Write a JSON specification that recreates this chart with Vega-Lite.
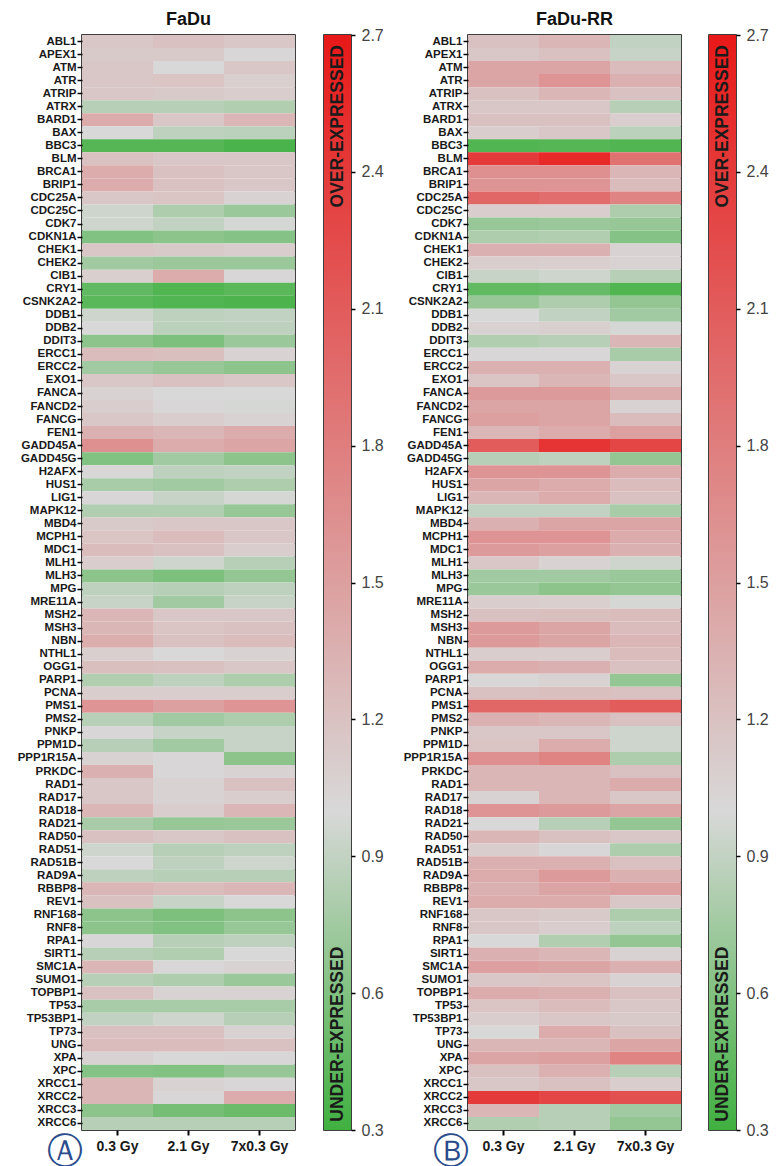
{
  "$schema": "https://vega.github.io/schema/vega-lite/v6.json",
  "background": "white",
  "padding": {"left": 16, "top": 10, "right": 5, "bottom": 0},
  "config": {
    "font": "Liberation Sans",
    "view": {"stroke": "black", "strokeWidth": 1.5},
    "title": {"fontSize": 18, "fontWeight": "bold", "color": "#111", "offset": 6}
  },
  "datasets": {
    "fadu": [
      {"gene":"ABL1","a":1.15,"b":1.2,"c":1.15},
      {"gene":"APEX1","a":1.12,"b":1.12,"c":1.02},
      {"gene":"ATM","a":1.15,"b":1.0,"c":1.15},
      {"gene":"ATR","a":1.15,"b":1.18,"c":1.08},
      {"gene":"ATRIP","a":1.15,"b":1.12,"c":1.1},
      {"gene":"ATRX","a":0.85,"b":0.85,"c":0.82},
      {"gene":"BARD1","a":1.4,"b":1.15,"c":1.3},
      {"gene":"BAX","a":1.0,"b":0.88,"c":0.87},
      {"gene":"BBC3","a":0.4,"b":0.4,"c":0.35},
      {"gene":"BLM","a":1.2,"b":1.15,"c":1.15},
      {"gene":"BRCA1","a":1.4,"b":1.2,"c":1.15},
      {"gene":"BRIP1","a":1.4,"b":1.2,"c":1.15},
      {"gene":"CDC25A","a":1.15,"b":1.18,"c":1.05},
      {"gene":"CDC25C","a":0.95,"b":0.8,"c":0.72},
      {"gene":"CDK7","a":0.95,"b":0.9,"c":0.98},
      {"gene":"CDKN1A","a":0.6,"b":0.65,"c":0.62},
      {"gene":"CHEK1","a":1.15,"b":1.12,"c":1.1},
      {"gene":"CHEK2","a":0.75,"b":0.72,"c":0.72},
      {"gene":"CIB1","a":1.08,"b":1.4,"c":1.02},
      {"gene":"CRY1","a":0.45,"b":0.38,"c":0.42},
      {"gene":"CSNK2A2","a":0.42,"b":0.38,"c":0.36},
      {"gene":"DDB1","a":0.95,"b":0.88,"c":0.9},
      {"gene":"DDB2","a":1.0,"b":0.87,"c":0.88},
      {"gene":"DDIT3","a":0.65,"b":0.58,"c":0.72},
      {"gene":"ERCC1","a":1.25,"b":1.22,"c":1.05},
      {"gene":"ERCC2","a":0.75,"b":0.7,"c":0.65},
      {"gene":"EXO1","a":1.15,"b":1.2,"c":1.15},
      {"gene":"FANCA","a":1.05,"b":1.0,"c":1.0},
      {"gene":"FANCD2","a":1.1,"b":1.02,"c":0.98},
      {"gene":"FANCG","a":1.15,"b":1.1,"c":1.05},
      {"gene":"FEN1","a":1.35,"b":1.3,"c":1.4},
      {"gene":"GADD45A","a":1.65,"b":1.4,"c":1.45},
      {"gene":"GADD45G","a":0.6,"b":0.75,"c":0.65},
      {"gene":"H2AFX","a":1.02,"b":0.88,"c":0.9},
      {"gene":"HUS1","a":0.78,"b":0.75,"c":0.8},
      {"gene":"LIG1","a":1.02,"b":0.92,"c":0.98},
      {"gene":"MAPK12","a":0.82,"b":0.82,"c":0.7},
      {"gene":"MBD4","a":1.12,"b":1.15,"c":1.15},
      {"gene":"MCPH1","a":1.18,"b":1.25,"c":1.15},
      {"gene":"MDC1","a":1.25,"b":1.2,"c":1.1},
      {"gene":"MLH1","a":1.1,"b":0.95,"c":0.85},
      {"gene":"MLH3","a":0.65,"b":0.58,"c":0.68},
      {"gene":"MPG","a":0.88,"b":0.85,"c":0.88},
      {"gene":"MRE11A","a":0.92,"b":0.75,"c":0.92},
      {"gene":"MSH2","a":1.3,"b":1.15,"c":1.15},
      {"gene":"MSH3","a":1.3,"b":1.18,"c":1.2},
      {"gene":"NBN","a":1.38,"b":1.2,"c":1.25},
      {"gene":"NTHL1","a":1.08,"b":1.0,"c":1.05},
      {"gene":"OGG1","a":1.22,"b":1.2,"c":1.15},
      {"gene":"PARP1","a":0.82,"b":0.88,"c":0.8},
      {"gene":"PCNA","a":1.1,"b":1.1,"c":1.1},
      {"gene":"PMS1","a":1.6,"b":1.5,"c":1.6},
      {"gene":"PMS2","a":0.85,"b":0.75,"c":0.8},
      {"gene":"PNKP","a":1.02,"b":0.92,"c":0.92},
      {"gene":"PPM1D","a":0.85,"b":0.75,"c":0.92},
      {"gene":"PPP1R15A","a":1.05,"b":1.02,"c":0.65},
      {"gene":"PRKDC","a":1.35,"b":1.02,"c":1.05},
      {"gene":"RAD1","a":1.15,"b":1.05,"c":1.2},
      {"gene":"RAD17","a":1.15,"b":1.05,"c":1.1},
      {"gene":"RAD18","a":1.3,"b":1.1,"c":1.3},
      {"gene":"RAD21","a":0.78,"b":0.7,"c":0.72},
      {"gene":"RAD50","a":1.2,"b":1.15,"c":1.2},
      {"gene":"RAD51","a":0.95,"b":0.85,"c":0.88},
      {"gene":"RAD51B","a":1.0,"b":0.88,"c":0.95},
      {"gene":"RAD9A","a":0.88,"b":0.85,"c":0.85},
      {"gene":"RBBP8","a":1.3,"b":1.25,"c":1.3},
      {"gene":"REV1","a":1.2,"b":0.92,"c":1.0},
      {"gene":"RNF168","a":0.65,"b":0.58,"c":0.65},
      {"gene":"RNF8","a":0.65,"b":0.6,"c":0.7},
      {"gene":"RPA1","a":1.02,"b":0.85,"c":0.88},
      {"gene":"SIRT1","a":0.85,"b":0.82,"c":1.0},
      {"gene":"SMC1A","a":1.3,"b":1.02,"c":1.05},
      {"gene":"SUMO1","a":0.85,"b":0.8,"c":0.72},
      {"gene":"TOPBP1","a":1.2,"b":1.05,"c":1.05},
      {"gene":"TP53","a":0.78,"b":0.78,"c":0.78},
      {"gene":"TP53BP1","a":0.9,"b":0.95,"c":0.85},
      {"gene":"TP73","a":1.2,"b":1.2,"c":1.05},
      {"gene":"UNG","a":1.25,"b":1.25,"c":1.2},
      {"gene":"XPA","a":1.05,"b":1.0,"c":1.02},
      {"gene":"XPC","a":0.62,"b":0.6,"c":0.7},
      {"gene":"XRCC1","a":1.3,"b":1.05,"c":1.02},
      {"gene":"XRCC2","a":1.3,"b":1.02,"c":1.4},
      {"gene":"XRCC3","a":0.65,"b":0.55,"c":0.5},
      {"gene":"XRCC6","a":0.85,"b":0.85,"c":0.85}
    ],
    "fadurr": [
      {"gene":"ABL1","a":1.2,"b":1.3,"c":0.9},
      {"gene":"APEX1","a":1.15,"b":1.2,"c":0.92},
      {"gene":"ATM","a":1.45,"b":1.45,"c":1.25},
      {"gene":"ATR","a":1.45,"b":1.6,"c":1.35},
      {"gene":"ATRIP","a":1.2,"b":1.3,"c":1.2},
      {"gene":"ATRX","a":1.15,"b":1.15,"c":0.85},
      {"gene":"BARD1","a":1.2,"b":1.2,"c":1.1},
      {"gene":"BAX","a":1.1,"b":1.15,"c":0.87},
      {"gene":"BBC3","a":0.38,"b":0.4,"c":0.38},
      {"gene":"BLM","a":2.4,"b":2.55,"c":1.9},
      {"gene":"BRCA1","a":1.65,"b":1.65,"c":1.3},
      {"gene":"BRIP1","a":1.6,"b":1.6,"c":1.25},
      {"gene":"CDC25A","a":2.0,"b":1.95,"c":1.75},
      {"gene":"CDC25C","a":1.1,"b":1.1,"c":0.8},
      {"gene":"CDK7","a":0.7,"b":0.72,"c":0.7},
      {"gene":"CDKN1A","a":0.8,"b":0.82,"c":0.62},
      {"gene":"CHEK1","a":1.35,"b":1.35,"c":1.05},
      {"gene":"CHEK2","a":1.1,"b":1.08,"c":1.05},
      {"gene":"CIB1","a":0.92,"b":0.95,"c":0.85},
      {"gene":"CRY1","a":0.45,"b":0.48,"c":0.38},
      {"gene":"CSNK2A2","a":0.7,"b":0.8,"c":0.68},
      {"gene":"DDB1","a":1.0,"b":0.9,"c":0.75},
      {"gene":"DDB2","a":1.05,"b":1.08,"c":0.98},
      {"gene":"DDIT3","a":0.82,"b":0.85,"c":1.3},
      {"gene":"ERCC1","a":1.02,"b":1.02,"c":0.78},
      {"gene":"ERCC2","a":1.35,"b":1.35,"c":1.05},
      {"gene":"EXO1","a":1.18,"b":1.3,"c":1.15},
      {"gene":"FANCA","a":1.55,"b":1.55,"c":1.4},
      {"gene":"FANCD2","a":1.45,"b":1.45,"c":1.05},
      {"gene":"FANCG","a":1.5,"b":1.45,"c":1.25},
      {"gene":"FEN1","a":1.3,"b":1.4,"c":1.5},
      {"gene":"GADD45A","a":2.1,"b":2.45,"c":2.3},
      {"gene":"GADD45G","a":0.85,"b":0.88,"c":0.68},
      {"gene":"H2AFX","a":1.6,"b":1.6,"c":1.4},
      {"gene":"HUS1","a":1.45,"b":1.4,"c":1.25},
      {"gene":"LIG1","a":1.3,"b":1.4,"c":1.2},
      {"gene":"MAPK12","a":0.9,"b":0.9,"c":0.78},
      {"gene":"MBD4","a":1.35,"b":1.45,"c":1.45},
      {"gene":"MCPH1","a":1.6,"b":1.6,"c":1.4},
      {"gene":"MDC1","a":1.55,"b":1.5,"c":1.35},
      {"gene":"MLH1","a":1.15,"b":1.05,"c":0.95},
      {"gene":"MLH3","a":0.75,"b":0.75,"c":0.72},
      {"gene":"MPG","a":0.72,"b":0.65,"c":0.68},
      {"gene":"MRE11A","a":1.1,"b":1.08,"c":0.98},
      {"gene":"MSH2","a":1.2,"b":1.22,"c":1.25},
      {"gene":"MSH3","a":1.55,"b":1.45,"c":1.25},
      {"gene":"NBN","a":1.55,"b":1.45,"c":1.3},
      {"gene":"NTHL1","a":1.1,"b":1.1,"c":1.25},
      {"gene":"OGG1","a":1.4,"b":1.35,"c":1.2},
      {"gene":"PARP1","a":1.02,"b":1.05,"c":0.68},
      {"gene":"PCNA","a":1.2,"b":1.22,"c":1.2},
      {"gene":"PMS1","a":2.0,"b":2.0,"c":2.1},
      {"gene":"PMS2","a":1.35,"b":1.3,"c":1.2},
      {"gene":"PNKP","a":1.15,"b":1.15,"c":0.95},
      {"gene":"PPM1D","a":1.18,"b":1.4,"c":0.95},
      {"gene":"PPP1R15A","a":1.65,"b":1.75,"c":0.8},
      {"gene":"PRKDC","a":1.3,"b":1.3,"c":1.2},
      {"gene":"RAD1","a":1.3,"b":1.3,"c":1.4},
      {"gene":"RAD17","a":1.05,"b":1.3,"c":1.15},
      {"gene":"RAD18","a":1.6,"b":1.55,"c":1.45},
      {"gene":"RAD21","a":1.0,"b":0.85,"c":0.68},
      {"gene":"RAD50","a":1.3,"b":1.2,"c":1.15},
      {"gene":"RAD51","a":1.1,"b":1.02,"c":0.8},
      {"gene":"RAD51B","a":1.35,"b":1.35,"c":1.2},
      {"gene":"RAD9A","a":1.4,"b":1.55,"c":1.35},
      {"gene":"RBBP8","a":1.35,"b":1.45,"c":1.5},
      {"gene":"REV1","a":1.4,"b":1.4,"c":1.15},
      {"gene":"RNF168","a":1.15,"b":1.12,"c":0.8},
      {"gene":"RNF8","a":1.15,"b":1.1,"c":0.88},
      {"gene":"RPA1","a":1.0,"b":0.82,"c":0.68},
      {"gene":"SIRT1","a":1.35,"b":1.3,"c":1.05},
      {"gene":"SMC1A","a":1.5,"b":1.45,"c":1.35},
      {"gene":"SUMO1","a":1.15,"b":1.18,"c":1.05},
      {"gene":"TOPBP1","a":1.4,"b":1.35,"c":1.2},
      {"gene":"TP53","a":1.18,"b":1.25,"c":1.15},
      {"gene":"TP53BP1","a":1.1,"b":1.15,"c":1.12},
      {"gene":"TP73","a":1.0,"b":1.4,"c":1.2},
      {"gene":"UNG","a":1.3,"b":1.3,"c":1.45},
      {"gene":"XPA","a":1.45,"b":1.5,"c":1.75},
      {"gene":"XPC","a":1.2,"b":1.35,"c":0.85},
      {"gene":"XRCC1","a":1.15,"b":1.2,"c":1.1},
      {"gene":"XRCC2","a":2.4,"b":2.3,"c":2.2},
      {"gene":"XRCC3","a":1.3,"b":0.85,"c":0.75},
      {"gene":"XRCC6","a":0.82,"b":0.85,"c":0.68}
    ],
    "bar": [{"lo": 0.3, "hi": 2.7}],
    "barText": [{"label": "OVER-EXPRESSED", "pos": 2.5}, {"label": "UNDER-EXPRESSED", "pos": 0.51}]
  },
  "spacing": 18,
  "hconcat": [
    {
      "spacing": 27,
      "hconcat": [
        {
          "data": {"name": "fadu"},
          "transform": [{"fold": ["a", "b", "c"], "as": ["dose", "fc"]}],
          "width": 213,
          "height": 1095,
          "title": {"text": "FaDu"},
          "mark": {"type": "rect"},
          "encoding": {
            "y": {"field": "gene", "type": "nominal", "sort": null,
              "axis": {"title": null, "labelFontSize": 11.5, "labelFontWeight": "bold", "labelColor": "#1a1a1a", "tickSize": 5, "tickWidth": 1.5, "tickColor": "black", "domain": false, "labelPadding": 1}},
            "x": {"field": "dose", "type": "nominal", "sort": ["a", "b", "c"],
              "axis": {"title": "Ⓐ", "titleFontSize": 36, "titleFontWeight": "normal", "titleColor": "#2b4c8c", "titleX": -18, "titleY": 21, "titleBaseline": "middle", "titleAlign": "center", "titleFont": "DejaVu Sans",
                "labelExpr": "datum.value == 'a' ? '0.3 Gy' : datum.value == 'b' ? '2.1 Gy' : '7x0.3 Gy'",
                "labelAngle": 0, "labelFontSize": 14, "labelFontWeight": "bold", "labelColor": "#1a1a1a", "tickSize": 5, "tickWidth": 2, "tickColor": "black", "domain": false, "labelPadding": 4}},
            "color": {"field": "fc", "type": "quantitative",
              "scale": {"domain": [0.3, 1.0, 2.7], "range": ["#40b040", "#d8d8d8", "#e81818"], "interpolate": "rgb"},
              "legend": null}
          }
        },
        {
          "width": 27,
          "height": 1095,
          "layer": [
            {
              "data": {"name": "bar"},
              "mark": {"type": "rect", "color": {"gradient": "linear", "x1": 0, "y1": 1, "x2": 0, "y2": 0,
                "stops": [{"offset": 0, "color": "#40b040"}, {"offset": 0.29167, "color": "#d8d8d8"}, {"offset": 1, "color": "#e81818"}]}},
              "encoding": {
                "y": {"field": "lo", "type": "quantitative", "scale": {"domain": [0.3, 2.7], "nice": false, "zero": false},
                  "axis": {"title": null, "orient": "right", "values": [0.3, 0.6, 0.9, 1.2, 1.5, 1.8, 2.1, 2.4, 2.7], "format": ".1f", "labelFontSize": 16, "labelColor": "#444", "labelFlush": false, "labelOverlap": false, "tickSize": 4, "tickWidth": 1.5, "tickColor": "black", "domain": false, "grid": false, "labelPadding": 6}},
                "y2": {"field": "hi"}
              }
            },
            {
              "data": {"name": "barText"},
              "mark": {"type": "text", "angle": 270, "fontSize": 17.5, "fontWeight": "bold", "color": "#1a1a1a"},
              "encoding": {
                "y": {"field": "pos", "type": "quantitative"},
                "text": {"field": "label"}
              }
            }
          ]
        }
      ]
    },
    {
      "spacing": 26,
      "hconcat": [
        {
          "data": {"name": "fadurr"},
          "transform": [{"fold": ["a", "b", "c"], "as": ["dose", "fc"]}],
          "width": 213,
          "height": 1095,
          "title": {"text": "FaDu-RR"},
          "mark": {"type": "rect"},
          "encoding": {
            "y": {"field": "gene", "type": "nominal", "sort": null,
              "axis": {"title": null, "labelFontSize": 11.5, "labelFontWeight": "bold", "labelColor": "#1a1a1a", "tickSize": 5, "tickWidth": 1.5, "tickColor": "black", "domain": false, "labelPadding": 1}},
            "x": {"field": "dose", "type": "nominal", "sort": ["a", "b", "c"],
              "axis": {"title": "Ⓑ", "titleFontSize": 36, "titleFontWeight": "normal", "titleColor": "#2b4c8c", "titleX": -18, "titleY": 21, "titleBaseline": "middle", "titleAlign": "center", "titleFont": "DejaVu Sans",
                "labelExpr": "datum.value == 'a' ? '0.3 Gy' : datum.value == 'b' ? '2.1 Gy' : '7x0.3 Gy'",
                "labelAngle": 0, "labelFontSize": 14, "labelFontWeight": "bold", "labelColor": "#1a1a1a", "tickSize": 5, "tickWidth": 2, "tickColor": "black", "domain": false, "labelPadding": 4}},
            "color": {"field": "fc", "type": "quantitative",
              "scale": {"domain": [0.3, 1.0, 2.7], "range": ["#40b040", "#d8d8d8", "#e81818"], "interpolate": "rgb"},
              "legend": null}
          }
        },
        {
          "width": 27,
          "height": 1095,
          "layer": [
            {
              "data": {"name": "bar"},
              "mark": {"type": "rect", "color": {"gradient": "linear", "x1": 0, "y1": 1, "x2": 0, "y2": 0,
                "stops": [{"offset": 0, "color": "#40b040"}, {"offset": 0.29167, "color": "#d8d8d8"}, {"offset": 1, "color": "#e81818"}]}},
              "encoding": {
                "y": {"field": "lo", "type": "quantitative", "scale": {"domain": [0.3, 2.7], "nice": false, "zero": false},
                  "axis": {"title": null, "orient": "right", "values": [0.3, 0.6, 0.9, 1.2, 1.5, 1.8, 2.1, 2.4, 2.7], "format": ".1f", "labelFontSize": 16, "labelColor": "#444", "labelFlush": false, "labelOverlap": false, "tickSize": 4, "tickWidth": 1.5, "tickColor": "black", "domain": false, "grid": false, "labelPadding": 6}},
                "y2": {"field": "hi"}
              }
            },
            {
              "data": {"name": "barText"},
              "mark": {"type": "text", "angle": 270, "fontSize": 17.5, "fontWeight": "bold", "color": "#1a1a1a"},
              "encoding": {
                "y": {"field": "pos", "type": "quantitative"},
                "text": {"field": "label"}
              }
            }
          ]
        }
      ]
    }
  ]
}
